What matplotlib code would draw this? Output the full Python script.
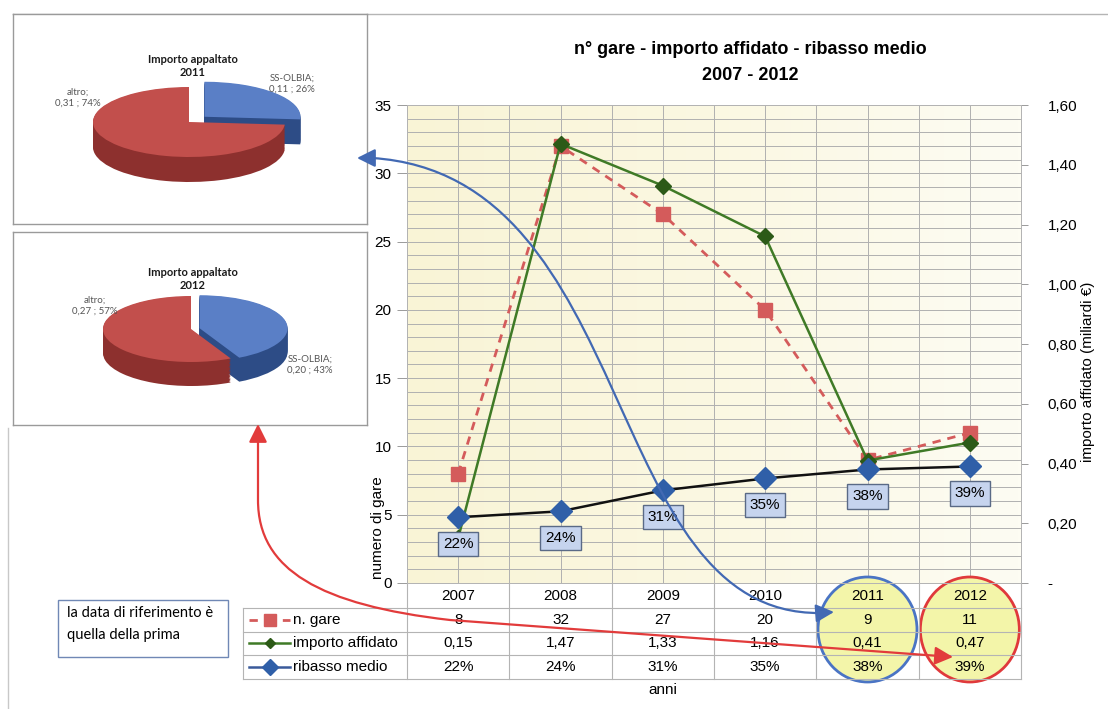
import numpy as np
import matplotlib.pyplot as plt
from matplotlib.patches import Rectangle, Ellipse, FancyArrowPatch
from matplotlib.path import Path
from matplotlib.colors import LinearSegmentedColormap
from matplotlib.transforms import blended_transform_factory

plt.rcParams['font.family'] = ['Liberation Sans', 'DejaVu Sans']

# dati
anni = ['2007', '2008', '2009', '2010', '2011', '2012']
n_gare = [8, 32, 27, 20, 9, 11]
importo = [0.15, 1.47, 1.33, 1.16, 0.41, 0.47]
ribasso = [22, 24, 31, 35, 38, 39]

pie_voci = ['SS-OLBIA', 'altro']
pie_2011 = [0.11, 0.31]
pie_2012 = [0.20, 0.27]

ROSSO = '#d45b5b'
VERDE = '#3f7a26'
BLU = '#2f5fa8'

W, H = 1108, 709


def fx(px):
    return px / W


def fy(py):
    return 1 - py / H


def virgola(v):
    return f'{v:.2f}'.replace('.', ',')


fig = plt.figure(figsize=(W / 100, H / 100), dpi=100)

# livello di sfondo (cornici)
bg = fig.add_axes([0, 0, 1, 1], zorder=0)
bg.set_xlim(0, W)
bg.set_ylim(H, 0)
bg.axis('off')
bg.plot([13, W], [14, 14], color='#b5b5b5', lw=1)
bg.plot([8, 8], [428, H], color='#c8c8c8', lw=1)

# grafico principale
AX_L, AX_R, AX_T, AX_B = 407, 1021, 105, 583
ax = fig.add_axes([fx(AX_L), fy(AX_B), (AX_R - AX_L) / W, (AX_B - AX_T) / H], zorder=1)
ax2 = ax.twinx()
ax2.set_zorder(2)

cmap = LinearSegmentedColormap.from_list('carta', ['#f9f4d6', '#fbf8e2', '#fdfcf3'])
ax.imshow(np.linspace(0, 1, 200).reshape(1, -1), cmap=cmap, aspect='auto',
          extent=(0, 1, 0, 1), transform=ax.transAxes, zorder=0)

x = np.arange(len(anni))
ax.plot(x, n_gare, ls=(0, (3, 2.5)), color=ROSSO, lw=2, marker='s', ms=10,
        mfc=ROSSO, mec=ROSSO, zorder=3)
ax2.plot(x, importo, color=VERDE, lw=1.8, marker='D', ms=8,
         mfc='#2c5a17', mec='#2c5a17', zorder=3)
rib = [r / 100 for r in ribasso]
ax2.plot(x, rib, color='#111111', lw=1.8, marker='D', ms=11,
         mfc=BLU, mec=BLU, zorder=4)
for xi, r, lab in zip(x, rib, ribasso):
    ax2.annotate(f'{lab}%', (xi, r), xytext=(0, -27), textcoords='offset pixels',
                 ha='center', va='center', fontsize=11, zorder=5,
                 bbox=dict(boxstyle='square,pad=0.33', fc='#c6d4ee', ec='#5a6a86', lw=1))

ax.set_xlim(-0.5, 5.5)
ax.set_ylim(0, 35)
ax2.set_ylim(0, 1.6)

ax.set_xticks(x)
ax.set_xticks(np.arange(-0.5, 6, 1), minor=True)
ax.tick_params(axis='x', which='both', length=0, labelbottom=False)
ax.set_yticks(range(0, 36, 5))
ax.set_yticks(range(0, 36), minor=True)
ax.tick_params(axis='y', which='major', length=7, width=0.7, color='#9a9a9a',
               labelsize=11, pad=4)
ax.tick_params(axis='y', which='minor', length=0)
ax.grid(which='both', color='#b0b0b0', lw=0.7)
ax.set_axisbelow(True)

r_ticks = np.arange(0, 1.61, 0.2)
ax2.set_yticks(r_ticks)
ax2.set_yticklabels(['-'] + [virgola(t) for t in r_ticks[1:]])
ax2.tick_params(axis='y', length=5, width=0.7, color='#9a9a9a', labelsize=11, pad=14)

for sp in list(ax.spines.values()) + list(ax2.spines.values()):
    sp.set_color('#b4b4b4')
    sp.set_linewidth(0.7)

ax.set_ylabel('numero di gare', fontsize=11)
ax.yaxis.set_label_coords(-0.036, 0.115)
ax2.set_ylabel('importo affidato (miliardi €)', fontsize=11)
ax2.yaxis.set_label_coords(1.097, 0.441)

fig.text(fx(750), fy(50), 'n° gare - importo affidato - ribasso medio',
         ha='center', va='center', fontsize=13, fontweight='bold')
fig.text(fx(750), fy(75), '2007 - 2012', ha='center', va='center',
         fontsize=13, fontweight='bold')

# tabella dati sotto il grafico
T = blended_transform_factory(ax.transData, ax.transAxes)


def ty(py):
    return (AX_B - py) / (AX_B - AX_T)


def tx(px):
    return -0.5 + (px - AX_L) / (AX_R - AX_L) * 6


bordi = [ty(608), ty(632), ty(655), ty(679)]
righe = [ty(620), ty(643), ty(667)]
sx = tx(243)
for b in bordi:
    ax.plot([sx, 5.5], [b, b], transform=T, clip_on=False, color='#b4b4b4', lw=0.8, zorder=2)
for k in np.arange(-0.5, 6, 1):
    ax.plot([k, k], [0, bordi[-1]], transform=T, clip_on=False, color='#b4b4b4', lw=0.8, zorder=2)
ax.plot([sx, sx], [bordi[0], bordi[-1]], transform=T, clip_on=False, color='#b4b4b4', lw=0.8)

for xi, c, e in zip([4, 5], ['#f3f5a9', '#f3f5a9'], ['#4a74c4', '#e0393b']):
    ax.add_patch(Ellipse((xi, ty(629.5)), width=99 / 102.33, height=105 / 478,
                         transform=T, fc=c, ec=e, lw=2, clip_on=False, zorder=1))

valori = [[str(v) for v in n_gare], [virgola(v) for v in importo], [f'{v}%' for v in ribasso]]
for xi, a in enumerate(anni):
    ax.text(xi, ty(596), a, transform=T, ha='center', va='center', fontsize=11, zorder=4)
    for yr, riga in zip(righe, valori):
        ax.text(xi, yr, riga[xi], transform=T, ha='center', va='center', fontsize=11, zorder=4)

k0, k1 = tx(249), tx(290)
km = (k0 + k1) / 2
ax.plot([k0, k1], [righe[0]] * 2, transform=T, clip_on=False, color=ROSSO, lw=2, ls=(0, (3, 3)))
ax.plot([km], [righe[0]], transform=T, clip_on=False, marker='s', ms=8, color=ROSSO)
ax.plot([k0, k1], [righe[1]] * 2, transform=T, clip_on=False, color=VERDE, lw=1.8)
ax.plot([km], [righe[1]], transform=T, clip_on=False, marker='D', ms=5, color='#2c5a17')
ax.plot([k0, k1], [righe[2]] * 2, transform=T, clip_on=False, color='#3a5a9a', lw=1.8)
ax.plot([km], [righe[2]], transform=T, clip_on=False, marker='D', ms=8, color=BLU)
for yr, nome in zip(righe, ['n. gare', 'importo affidato', 'ribasso medio']):
    ax.text(tx(293), yr, nome, transform=T, ha='left', va='center', fontsize=11)
ax.text(2.0, ty(690), 'anni', transform=T, ha='center', va='center', fontsize=11)

# livello superiore (etichette torte, frecce)
fg = fig.add_axes([0, 0, 1, 1], zorder=5)
fg.set_xlim(0, W)
fg.set_ylim(H, 0)
fg.axis('off')


def torta(box, centro, rx, ry, prof, valori, esplodi, anno, pos_lab):
    x0, y0, x1, y1 = box
    cx, cy = centro
    pax = fig.add_axes([fx(x0), fy(y1), (x1 - x0) / W, (y1 - y0) / H], zorder=3)
    d_max = prof / ry
    for d in np.linspace(d_max, 0.02, 18):
        pax.pie(valori, colors=['#2d4c86', '#8d302e'], startangle=90, counterclock=False,
                explode=esplodi, center=(0, -d), wedgeprops=dict(lw=0), frame=True)
    pax.pie(valori, colors=['#5a7fc6', '#c24f4c'], startangle=90, counterclock=False,
            explode=esplodi, center=(0, 0), wedgeprops=dict(lw=0), frame=True)
    pax.set_aspect('auto')
    pax.set_xlim((x0 - cx) / rx, (x1 - cx) / rx)
    pax.set_ylim((cy - y1) / ry, (cy - y0) / ry)
    pax.set_xticks([])
    pax.set_yticks([])
    for sp in pax.spines.values():
        sp.set_color('#9a9a9a')
        sp.set_linewidth(1)
    tot = sum(valori)
    fam = ['Lato', 'DejaVu Sans']
    fg.text(pos_lab[0][0], pos_lab[0][1], f'Importo appaltato\n{anno}', ha='center',
            va='center', fontsize=8, fontweight='bold', family=fam, color='#1a1a1a')
    for (px, py), nome, v in zip(pos_lab[1:], pie_voci, valori):
        fg.text(px, py, f'{nome};\n{virgola(v)} ; {v / tot * 100:.0f}%', ha='center',
                va='center', fontsize=7, family=fam, color='#555555', linespacing=1.3)


torta((13, 14, 367, 224), (189, 122), 96, 35, 25, pie_2011, [0.22, 0], 2011,
      [(193, 66), (292, 84), (78, 98)])
torta((13, 232, 367, 425), (191, 329), 88, 33, 24, pie_2012, [0.1, 0], 2012,
      [(193, 279), (310, 365), (95, 306)])

# riquadro nota
fg.add_patch(Rectangle((58, 600), 170, 57, fc='white', ec='#7088b5', lw=1))
fg.text(67, 606, 'la data di riferimento è\nquella della prima', ha='left', va='top',
        fontsize=10.5, family=['Lato', 'DejaVu Sans'], linespacing=1.7)

# frecce
M, L, C = Path.MOVETO, Path.LINETO, Path.CURVE4
p_blu = Path([(357, 158), (372, 158), (640, 175), (600, 615), (820, 613), (834, 612)],
             [M, L, C, C, C, L])
fg.add_patch(FancyArrowPatch(path=p_blu, arrowstyle='<|-|>,head_length=0.5,head_width=0.25',
                             mutation_scale=22, color='#4269b3', lw=1.6))
p_rosso = Path([(258, 424), (258, 500), (258, 570), (320, 605), (450, 620), (953, 657)],
               [M, L, C, C, C, L])
fg.add_patch(FancyArrowPatch(path=p_rosso, arrowstyle='<|-|>,head_length=0.5,head_width=0.25',
                             mutation_scale=22, color='#e23b3b', lw=1.6))

fig.savefig('out.png', dpi=100)
